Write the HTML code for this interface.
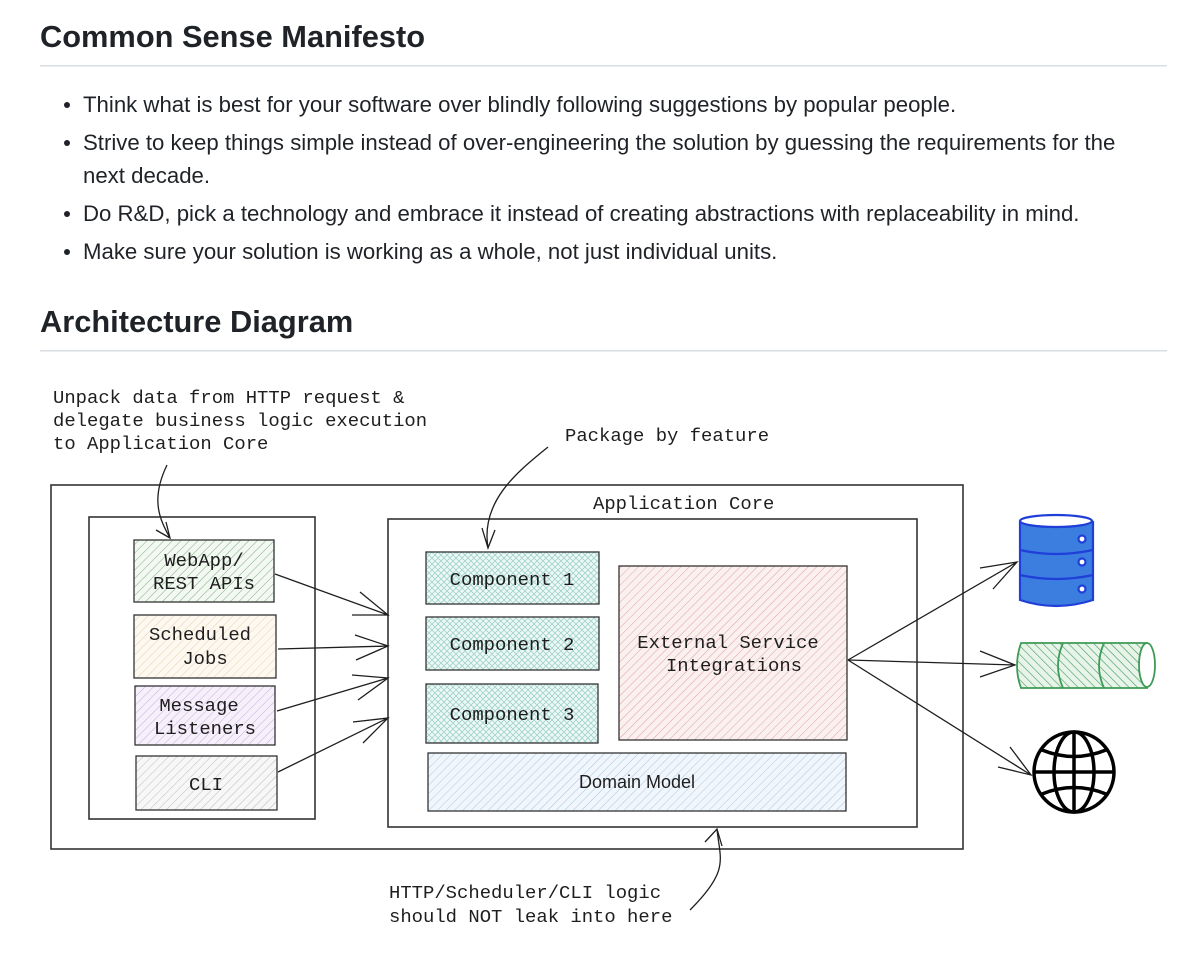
<!DOCTYPE html>
<html><head><meta charset="utf-8"><style>
html,body{margin:0;padding:0;background:#fff;width:1200px;height:954px;overflow:hidden}
svg{display:block}
.h{font-family:"Liberation Sans",sans-serif;font-weight:bold;font-size:30.8px;fill:#1f2328}
.p{font-family:"Liberation Sans",sans-serif;font-size:22.2px;fill:#1f2328}
.m{font-family:"Liberation Mono",monospace;font-size:18.9px;fill:#1e1e1e}
.b{fill:none;stroke:#333;stroke-width:1.6}
.a{fill:none;stroke:#1e1e1e;stroke-width:1.3}
</style></head><body>
<svg width="1200" height="954" viewBox="0 0 1200 954" xmlns="http://www.w3.org/2000/svg">
<defs>
<pattern id="hg" width="6" height="6" patternUnits="userSpaceOnUse" patternTransform="rotate(45)"><rect width="6" height="6" fill="#f3f8f2"/><line x1="0" y1="0" x2="0" y2="6" stroke="#7fb37f" stroke-width="1"/></pattern>
<pattern id="ho" width="6" height="6" patternUnits="userSpaceOnUse" patternTransform="rotate(45)"><rect width="6" height="6" fill="#fdf8f0"/><line x1="0" y1="0" x2="0" y2="6" stroke="#e8d2b0" stroke-width="1"/></pattern>
<pattern id="hp" width="6" height="6" patternUnits="userSpaceOnUse" patternTransform="rotate(45)"><rect width="6" height="6" fill="#f6f0fb"/><line x1="0" y1="0" x2="0" y2="6" stroke="#c6a8e0" stroke-width="1"/></pattern>
<pattern id="hy" width="6" height="6" patternUnits="userSpaceOnUse" patternTransform="rotate(45)"><rect width="6" height="6" fill="#f7f7f7"/><line x1="0" y1="0" x2="0" y2="6" stroke="#bbb" stroke-width="1"/></pattern>
<pattern id="hc" width="6" height="6" patternUnits="userSpaceOnUse"><rect width="6" height="6" fill="#eef8f6"/><path d="M0 0L6 6M6 0L0 6" stroke="#9fd3c9" stroke-width="0.8"/></pattern>
<pattern id="hr" width="6" height="6" patternUnits="userSpaceOnUse" patternTransform="rotate(45)"><rect width="6" height="6" fill="#fbf0f0"/><line x1="0" y1="0" x2="0" y2="6" stroke="#e0a0a0" stroke-width="1"/></pattern>
<pattern id="hb" width="6" height="6" patternUnits="userSpaceOnUse" patternTransform="rotate(45)"><rect width="6" height="6" fill="#f0f6fb"/><line x1="0" y1="0" x2="0" y2="6" stroke="#a8c8e0" stroke-width="1"/></pattern>
<pattern id="hgr" width="6" height="6" patternUnits="userSpaceOnUse" patternTransform="rotate(-45)"><rect width="6" height="6" fill="#e8f4ea"/><line x1="0" y1="0" x2="0" y2="6" stroke="#3e9a55" stroke-width="1.2"/></pattern>
</defs>

<text class="h" x="40" y="47">Common Sense Manifesto</text>
<rect x="40" y="65" width="1127" height="1.5" fill="#d8dee4"/>
<g class="p">
<circle cx="67" cy="105" r="3" fill="#1f2328"/><text x="83" y="112">Think what is best for your software over blindly following suggestions by popular people.</text>
<circle cx="67" cy="143" r="3" fill="#1f2328"/><text x="83" y="150">Strive to keep things simple instead of over-engineering the solution by guessing the requirements for the</text>
<text x="83" y="183">next decade.</text>
<circle cx="67" cy="214" r="3" fill="#1f2328"/><text x="83" y="221">Do R&amp;D, pick a technology and embrace it instead of creating abstractions with replaceability in mind.</text>
<circle cx="67" cy="252" r="3" fill="#1f2328"/><text x="83" y="259">Make sure your solution is working as a whole, not just individual units.</text>
</g>
<text class="h" x="40" y="332">Architecture Diagram</text>
<rect x="40" y="350" width="1127" height="1.5" fill="#d8dee4"/>

<g class="m">
<text x="53" y="403">Unpack data from HTTP request &amp;</text>
<text x="53" y="426">delegate business logic execution</text>
<text x="53" y="449">to Application Core</text>
<text x="565" y="441">Package by feature</text>
<text x="593" y="509">Application Core</text>
<text x="389" y="898">HTTP/Scheduler/CLI logic</text>
<text x="389" y="922">should NOT leak into here</text>
</g>

<rect class="b" x="51" y="485" width="912" height="364"/>
<rect class="b" x="89" y="517" width="226" height="302"/>
<rect class="b" x="388" y="519" width="529" height="308"/>

<rect x="134" y="540" width="140" height="62" fill="url(#hg)" stroke="#333" stroke-width="1.3"/>
<rect x="134" y="615" width="142" height="63" fill="url(#ho)" stroke="#333" stroke-width="1.3"/>
<rect x="135" y="686" width="140" height="59" fill="url(#hp)" stroke="#333" stroke-width="1.3"/>
<rect x="136" y="756" width="141" height="54" fill="url(#hy)" stroke="#333" stroke-width="1.3"/>
<rect x="426" y="552" width="173" height="52" fill="url(#hc)" stroke="#333" stroke-width="1.3"/>
<rect x="426" y="617" width="173" height="53" fill="url(#hc)" stroke="#333" stroke-width="1.3"/>
<rect x="426" y="684" width="172" height="59" fill="url(#hc)" stroke="#333" stroke-width="1.3"/>
<rect x="619" y="566" width="228" height="174" fill="url(#hr)" stroke="#333" stroke-width="1.3"/>
<rect x="428" y="753" width="418" height="58" fill="url(#hb)" stroke="#333" stroke-width="1.3"/>

<g class="m" text-anchor="middle">
<text x="204" y="566">WebApp/</text><text x="204" y="589">REST APIs</text>
<text x="200" y="640">Scheduled</text><text x="205" y="664">Jobs</text>
<text x="199" y="711">Message</text><text x="205" y="734">Listeners</text>
<text x="206" y="790">CLI</text>
<text x="512" y="585">Component 1</text>
<text x="512" y="650">Component 2</text>
<text x="512" y="720">Component 3</text>
<text x="728" y="648">External Service</text>
<text x="734" y="671">Integrations</text>
</g>
<text x="637" y="788" text-anchor="middle" font-family="Liberation Sans,sans-serif" font-size="18" fill="#1e1e1e">Domain Model</text>

<g class="a">
<path d="M275 574L388 615M352 615L388 615L360 592"/>
<path d="M278 649L388 646M355 635L388 646L356 660"/>
<path d="M277 711L388 678M352 675L388 678L358 700"/>
<path d="M278 772L388 718M353 722L388 718L363 743"/>
<path d="M167 465C150 500 160 520 170 538M156 530L170 538L166 522"/>
<path d="M488 548C480 500 520 470 548 447M482 528L488 548L495 530"/>
<path d="M848 660L1017 562M980 568L1017 562L993 589"/>
<path d="M848 660L1015 665M980 651L1015 665L980 677"/>
<path d="M848 660L1031 775M1010 747L1031 775L998 767"/>
<path d="M690 910C730 870 720 860 717 829M705 842L717 829L722 846"/>
</g>

<g stroke="#1f3fd8" stroke-width="2.2">
<path d="M1020 522L1020 600Q1056 612 1093 600L1093 522Z" fill="#3c7de0"/>
<ellipse cx="1056" cy="521" rx="36" ry="6" fill="#fff"/>
<path d="M1020 550Q1056 558 1093 550M1020 575Q1056 583 1093 575" fill="none"/>
<circle cx="1082" cy="539" r="3.5" fill="#fff"/><circle cx="1082" cy="562" r="3.5" fill="#fff"/><circle cx="1082" cy="589" r="3.5" fill="#fff"/>
</g>
<g stroke="#3e9a55" stroke-width="1.8">
<path d="M1021 643L1147 643L1147 688L1021 688Q1013 666 1021 643Z" fill="url(#hgr)"/>
<ellipse cx="1147" cy="665" rx="8" ry="22" fill="#fff"/>
<path d="M1063 643Q1053 666 1063 688M1104 643Q1094 666 1104 688" fill="none"/>
</g>
<g stroke="#000" stroke-width="3.5" fill="none">
<circle cx="1074" cy="772" r="40"/>
<ellipse cx="1074" cy="772" rx="20" ry="40"/>
<path d="M1074 732L1074 812M1034 772L1114 772M1042 750Q1074 763 1106 750M1042 794Q1074 781 1106 794"/>
</g>
</svg>
</body></html>
